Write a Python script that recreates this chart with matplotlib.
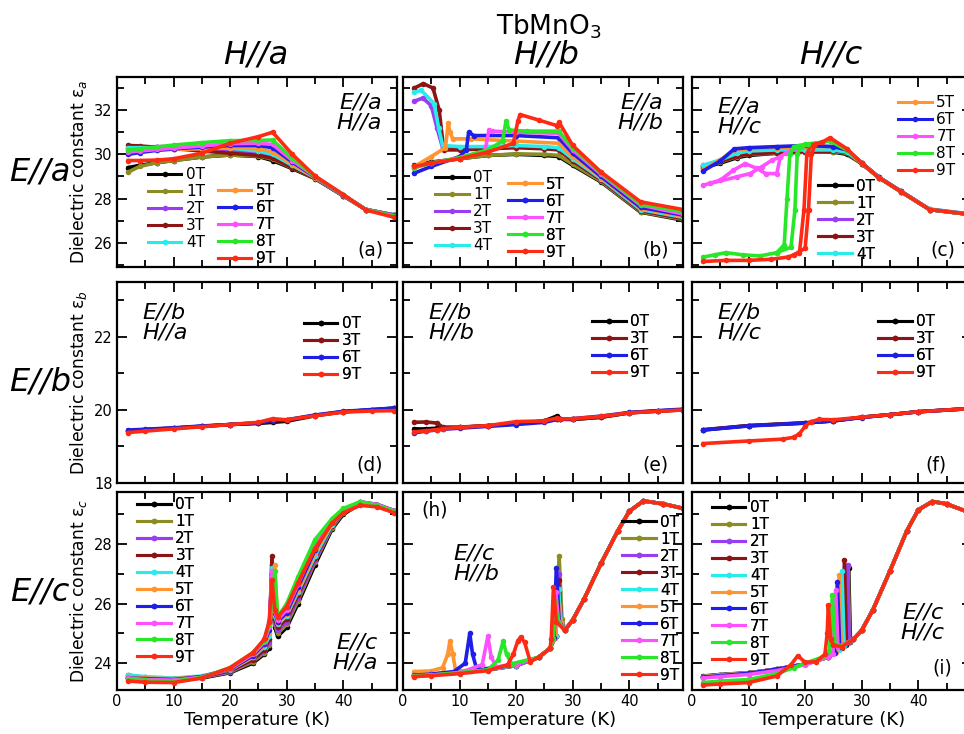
import matplotlib
matplotlib.use("Agg")
import matplotlib.pyplot as plt
from matplotlib.lines import Line2D
from matplotlib.ticker import MultipleLocator

plt.rcParams['font.family'] = ['DejaVu Sans']
plt.rcParams['mathtext.fontset'] = 'dejavusans'

FIELDS = ['0T', '1T', '2T', '3T', '4T', '5T', '6T', '7T', '8T', '9T']
COLORS = ['#000000', '#8c8c22', '#9a3cf0', '#8c1414', '#28ecec',
          '#ff9430', '#1e1ee6', '#ff50ff', '#28e628', '#ff2a14']

# ---------------- E//a, H//a ----------------
T_A = [2, 4, 7, 10, 15, 20, 25, 27.5, 31, 35, 40, 44, 49]
EPS_A = [
    [29.4, 29.5, 29.62, 29.72, 29.88, 29.97, 29.9, 29.72, 29.35, 28.9, 28.12, 27.5, 27.25],
    [29.2, 29.45, 29.62, 29.72, 29.88, 29.97, 29.92, 29.78, 29.38, 28.92, 28.12, 27.5, 27.25],
    [30.3, 30.32, 30.35, 30.35, 30.3, 30.2, 30.05, 29.9, 29.45, 28.93, 28.13, 27.5, 27.25],
    [30.4, 30.38, 30.32, 30.26, 30.15, 30.05, 29.95, 29.82, 29.4, 28.92, 28.13, 27.5, 27.25],
    [30.3, 30.3, 30.3, 30.3, 30.3, 30.28, 30.15, 30.0, 29.5, 28.95, 28.14, 27.5, 27.25],
    [30.2, 30.2, 30.2, 30.22, 30.25, 30.3, 30.25, 30.12, 29.55, 28.95, 28.15, 27.5, 27.25],
    [30.0, 30.08, 30.18, 30.25, 30.33, 30.4, 30.4, 30.3, 29.65, 28.98, 28.15, 27.5, 27.24],
    [30.1, 30.15, 30.22, 30.28, 30.38, 30.48, 30.5, 30.45, 29.72, 29.0, 28.16, 27.5, 27.22],
    [30.2, 30.25, 30.33, 30.42, 30.53, 30.62, 30.63, 30.65, 29.82, 29.0, 28.17, 27.5, 27.2],
    [29.72, 29.72, 29.74, 29.8, 30.05, 30.5, 30.8, 31.0, 30.0, 29.02, 28.18, 27.48, 27.15],
]

# ---------------- E//a, H//b ----------------
T_B = [
    [2, 5, 10, 15, 20, 25, 27.5, 30, 35, 42, 49.5],
    [2, 5, 10, 15, 20, 25, 27.5, 30, 35, 42, 49.5],
    [2, 3.5, 5, 6, 7, 10, 15, 20, 25, 27.5, 30, 35, 42, 49.5],
    [2, 3.6, 5.3, 6.4, 7.2, 10, 15, 20, 25, 27.5, 30, 35, 42, 49.5],
    [2, 3.2, 5.5, 6.3, 7, 10, 15, 20, 25, 27.5, 30, 35, 42, 49.5],
    [2, 5, 7.5, 8, 8.3, 8.8, 12, 20, 27.5, 30, 35, 42, 49.5],
    [2, 5, 10, 11.2, 11.6, 12.5, 20, 27.5, 30, 35, 42, 49.5],
    [2, 5, 10, 14.5, 15.2, 15.8, 20, 27.5, 30, 35, 42, 49.5],
    [2, 5, 10, 15, 17.6, 18.2, 18.8, 22, 27.5, 30, 35, 42, 49.5],
    [2, 5, 10, 15, 19.5, 20.3, 20.7, 24, 27.2, 27.6, 30, 35, 42, 49.5],
]
EPS_B = [
    [29.5, 29.65, 29.8, 29.95, 30.0, 29.95, 29.9, 29.5, 28.75, 27.38, 27.02],
    [29.45, 29.62, 29.8, 29.95, 30.02, 30.0, 29.95, 29.55, 28.78, 27.4, 27.05],
    [32.4, 32.55, 32.2, 31.2, 30.3, 30.25, 30.3, 30.35, 30.3, 30.25, 29.75, 28.85, 27.45, 27.1],
    [33.0, 33.2, 33.0, 32.0, 30.2, 30.2, 30.25, 30.3, 30.25, 30.2, 29.7, 28.85, 27.45, 27.1],
    [32.8, 32.9, 32.3, 31.2, 30.4, 30.35, 30.35, 30.4, 30.35, 30.3, 29.8, 28.9, 27.5, 27.15],
    [29.45, 29.9, 30.3, 31.4, 31.0, 30.7, 30.7, 30.6, 30.5, 29.9, 28.95, 27.55, 27.2],
    [29.15, 29.45, 29.9, 30.2, 31.0, 30.85, 30.85, 30.75, 30.05, 29.0, 27.6, 27.25],
    [29.4, 29.6, 29.85, 30.15, 31.1, 31.05, 31.0, 30.95, 30.2, 29.1, 27.7, 27.3],
    [29.4, 29.6, 29.85, 30.2, 30.6, 31.5, 31.1, 31.05, 31.05, 30.3, 29.15, 27.75, 27.4],
    [29.45, 29.6, 29.8, 30.1, 30.5, 31.5, 31.8, 31.55, 31.3, 31.45, 30.4, 29.2, 27.85, 27.5],
]

# ---------------- E//a, H//c ----------------
T_C_LOW = [2, 5, 8, 10, 15, 20, 25, 27.4, 30, 33, 37, 42, 48.5]
T_C_MID = [2, 5, 7.5, 10, 15, 20, 25, 27.4, 30, 33, 37, 42, 48.5]
T_C = [
    T_C_LOW, T_C_LOW, T_C_LOW, T_C_LOW, T_C_LOW, T_C_MID, T_C_MID,
    [2, 5, 7.3, 9.4, 11.5, 13, 15, 15.6, 16.6, 18.4, 21, 24.5, 27.4, 30, 33, 37, 42, 48.5],
    [2, 4, 6, 9, 12, 15, 16.3, 16.8, 17.3, 18, 20, 24.4, 27.4, 30, 33, 37, 42, 48.5],
    [2, 6, 10, 14, 17, 19, 19.8, 20.3, 21, 23, 24.4, 27.4, 30, 33, 37, 42, 48.5],
]
EPS_C = [
    [29.4, 29.6, 29.85, 29.95, 30.05, 30.1, 30.1, 30.0, 29.58, 28.95, 28.3, 27.5, 27.3],
    [29.45, 29.65, 29.9, 30.0, 30.05, 30.1, 30.12, 30.05, 29.58, 28.95, 28.3, 27.5, 27.3],
    [29.5, 29.7, 29.95, 30.05, 30.1, 30.15, 30.18, 30.12, 29.6, 28.97, 28.32, 27.52, 27.32],
    [29.45, 29.68, 29.92, 30.02, 30.08, 30.12, 30.15, 30.08, 29.58, 28.95, 28.3, 27.5, 27.3],
    [29.5, 29.75, 30.05, 30.15, 30.2, 30.2, 30.2, 30.1, 29.6, 28.97, 28.32, 27.52, 27.32],
    [29.3, 29.75, 30.2, 30.25, 30.3, 30.35, 30.35, 30.2, 29.62, 28.97, 28.32, 27.5, 27.3],
    [29.25, 29.7, 30.25, 30.3, 30.35, 30.4, 30.35, 30.2, 29.62, 28.97, 28.32, 27.5, 27.3],
    [28.6, 28.83, 29.28, 29.58, 29.36, 29.13, 29.13, 29.88, 30.06, 30.3, 30.45, 30.62, 30.2, 29.6, 28.95, 28.3, 27.5, 27.3],
    [25.35, 25.45, 25.55, 25.45, 25.4, 25.55, 25.9, 28.0, 30.0, 30.35, 30.45, 30.6, 30.2, 29.6, 28.95, 28.3, 27.5, 27.3],
    [25.15, 25.2, 25.2, 25.25, 25.35, 25.55, 27.5, 30.0, 30.4, 30.55, 30.75, 30.25, 29.6, 28.95, 28.3, 27.5, 27.3],
]
# second temperature sweeps at 7T, 8T and 9T
T_C_SWEEP = [
    [3.2, 7.9, 10.3, 12.3, 14.1, 15.6],
    [15, 17.5, 18.2, 18.6, 19.2, 20.5],
    [18, 20, 20.6, 21.1, 21.8],
]
EPS_C_SWEEP = [
    [28.68, 28.98, 29.13, 29.43, 29.73, 29.88],
    [25.55, 25.8, 27.5, 30.0, 30.35, 30.45],
    [25.45, 25.75, 27.5, 30.0, 30.45],
]
IDX_C_SWEEP = [7, 8, 9]

# ---------------- E//b panels (0T, 3T, 6T, 9T) ----------------
IDX_B = [0, 3, 6, 9]
T_D = [2, 5, 10, 15, 20, 25, 27.5, 30, 35, 40, 45, 49]
EPS_D = [
    [19.43, 19.46, 19.5, 19.55, 19.6, 19.63, 19.66, 19.69, 19.84, 19.95, 20.0, 20.05],
    [19.42, 19.46, 19.5, 19.55, 19.6, 19.64, 19.7, 19.72, 19.85, 19.95, 20.0, 20.04],
    [19.45, 19.47, 19.51, 19.56, 19.6, 19.65, 19.72, 19.73, 19.86, 19.96, 20.01, 20.05],
    [19.38, 19.42, 19.48, 19.54, 19.6, 19.66, 19.76, 19.73, 19.84, 19.94, 19.97, 19.98],
]
T_E = [2, 4, 6, 7, 10, 15, 20, 25, 27.3, 27.8, 30, 35, 40, 45, 49.5]
EPS_E = [
    [19.48, 19.48, 19.5, 19.5, 19.52, 19.57, 19.62, 19.7, 19.84, 19.75, 19.74, 19.8, 19.92, 19.97, 20.0],
    [19.66, 19.67, 19.64, 19.53, 19.53, 19.57, 19.62, 19.7, 19.76, 19.74, 19.74, 19.8, 19.92, 19.97, 20.0],
    [19.37, 19.42, 19.45, 19.47, 19.5, 19.55, 19.6, 19.66, 19.74, 19.74, 19.76, 19.83, 19.93, 19.98, 20.02],
    [19.4, 19.43, 19.46, 19.48, 19.52, 19.57, 19.68, 19.7, 19.78, 19.75, 19.76, 19.82, 19.92, 19.96, 20.0],
]
T_F_LOW = [2, 10, 20, 25, 30, 35, 40, 48.5]
T_F = [T_F_LOW, T_F_LOW, T_F_LOW,
       [2, 10, 16, 18, 19, 20, 21, 22.5, 25, 30, 35, 40, 48.5]]
EPS_F = [
    [19.45, 19.57, 19.64, 19.7, 19.8, 19.87, 19.95, 20.03],
    [19.46, 19.57, 19.65, 19.7, 19.8, 19.87, 19.95, 20.03],
    [19.45, 19.56, 19.64, 19.7, 19.79, 19.87, 19.95, 20.03],
    [19.08, 19.15, 19.2, 19.25, 19.35, 19.55, 19.68, 19.74, 19.73, 19.8, 19.87, 19.95, 20.03],
]

# ---------------- E//c, H//a ----------------
T_G = [2, 5, 10, 15, 20, 24, 26, 26.9, 27.4, 27.9, 28.4, 30, 32, 35, 38, 40, 43, 46, 49]
EPS_G = [
    [23.5, 23.48, 23.45, 23.5, 23.68, 24.0, 24.3, 24.5, 26.6, 25.2, 24.9, 25.2, 26.0, 27.3, 28.5, 29.0, 29.35, 29.3, 29.1],
    [23.55, 23.5, 23.47, 23.52, 23.7, 24.05, 24.35, 24.6, 27.2, 25.3, 25.0, 25.3, 26.1, 27.4, 28.55, 29.05, 29.38, 29.32, 29.1],
    [23.55, 23.5, 23.47, 23.53, 23.72, 24.1, 24.4, 24.7, 27.3, 25.4, 25.1, 25.4, 26.2, 27.45, 28.6, 29.08, 29.38, 29.32, 29.12],
    [23.6, 23.52, 23.48, 23.55, 23.75, 24.12, 24.45, 24.8, 27.6, 25.5, 25.2, 25.5, 26.3, 27.55, 28.62, 29.1, 29.4, 29.33, 29.12],
    [23.6, 23.55, 23.5, 23.57, 23.78, 24.2, 24.55, 24.9, 27.2, 25.6, 25.3, 25.6, 26.4, 27.6, 28.65, 29.1, 29.4, 29.33, 29.12],
    [23.55, 23.5, 23.48, 23.55, 23.8, 24.2, 24.6, 25.0, 26.0, 27.3, 25.35, 25.65, 26.45, 27.7, 28.7, 29.12, 29.4, 29.33, 29.12],
    [23.5, 23.48, 23.45, 23.55, 23.8, 24.25, 24.65, 25.1, 27.0, 25.7, 25.4, 25.7, 26.55, 27.8, 28.75, 29.15, 29.42, 29.33, 29.12],
    [23.5, 23.45, 23.43, 23.53, 23.82, 24.3, 24.7, 25.2, 27.1, 25.75, 25.45, 25.8, 26.65, 27.95, 28.8, 29.15, 29.42, 29.33, 29.12],
    [23.45, 23.42, 23.4, 23.52, 23.85, 24.35, 24.75, 25.3, 26.2, 27.1, 25.55, 26.0, 26.9, 28.15, 28.85, 29.2, 29.42, 29.3, 29.1],
    [23.4, 23.36, 23.35, 23.5, 23.85, 24.35, 24.8, 25.4, 26.8, 25.8, 25.55, 25.9, 26.7, 27.85, 28.7, 29.05, 29.3, 29.25, 29.05],
]

# ---------------- E//c, H//b ----------------
T_H_TAIL = [28.6, 30, 32, 35, 38, 40, 42.5, 46, 49.5]
EPS_H_TAIL = [25.1, 25.45, 26.15, 27.35, 28.45, 29.1, 29.45, 29.35, 29.2]
T_H = [
    [2, 5, 10, 15, 20, 24, 26, 27.0, 27.5, 28.0],
    [2, 5, 10, 15, 20, 24, 26, 27.0, 27.6, 28.1],
    [2, 5, 10, 15, 20, 24, 26, 27.0, 27.5, 28.0],
    [2, 5, 10, 15, 20, 24, 26, 27.0, 27.5, 28.0],
    [2, 5, 10, 15, 20, 24, 26, 27.0, 27.5, 28.0],
    [2, 5, 7, 7.9, 8.3, 8.8, 9.3, 12, 15, 20, 24, 26, 26.9, 27.3, 27.9],
    [2, 5, 9, 11, 11.8, 12.3, 13, 15, 20, 24, 26, 26.7, 27.1, 27.6],
    [2, 5, 10, 14, 15, 15.6, 16.5, 20, 24, 26, 26.6, 27.0, 27.5],
    [2, 5, 10, 15, 16.8, 17.7, 18.3, 19.2, 24, 26, 26.5, 26.9, 27.4],
    [2, 5, 10, 15, 18.5, 19.5, 20.3, 20.8, 21.5, 22.5, 24, 26, 26.2, 26.6, 27.1],
]
EPS_H = [
    [23.6, 23.63, 23.7, 23.78, 23.92, 24.2, 24.5, 24.9, 26.4, 25.4],
    [23.6, 23.63, 23.7, 23.78, 23.92, 24.2, 24.5, 24.9, 27.6, 25.5],
    [23.58, 23.62, 23.7, 23.78, 23.92, 24.2, 24.5, 24.9, 27.0, 25.4],
    [23.6, 23.63, 23.7, 23.78, 23.92, 24.2, 24.5, 24.9, 26.8, 25.4],
    [23.62, 23.64, 23.7, 23.78, 23.92, 24.2, 24.5, 24.9, 26.5, 25.35],
    [23.72, 23.74, 23.85, 24.3, 24.75, 24.3, 23.75, 23.75, 23.8, 23.94, 24.2, 24.5, 24.85, 26.3, 25.4],
    [23.6, 23.63, 23.72, 24.0, 25.0, 24.3, 23.82, 23.82, 23.94, 24.2, 24.5, 24.85, 27.2, 25.4],
    [23.58, 23.6, 23.68, 23.95, 24.9, 24.2, 23.88, 23.95, 24.2, 24.5, 24.8, 26.4, 25.4],
    [23.56, 23.6, 23.68, 23.78, 24.1, 24.74, 24.3, 23.98, 24.2, 24.5, 24.8, 26.05, 25.4],
    [23.55, 23.58, 23.65, 23.75, 23.95, 24.3, 24.75, 24.88, 24.7, 24.05, 24.2, 24.5, 24.8, 26.56, 25.4],
]

# ---------------- E//c, H//c ----------------
T_I_TAIL = [28.5, 30, 32, 35, 38, 40, 42.5, 45, 48.5]
EPS_I_TAIL = [24.8, 25.1, 25.8, 27.1, 28.45, 29.15, 29.43, 29.35, 29.1]
T_I = [
    [2, 5, 10, 15, 20, 24, 27.2, 27.7, 28.0],
    [2, 5, 10, 15, 20, 24, 27.1, 27.6, 27.9],
    [2, 5, 10, 15, 20, 24, 27.0, 27.5, 27.8],
    [2, 5, 10, 15, 20, 24, 26.5, 26.95, 27.3],
    [2, 5, 10, 15, 20, 24, 26.0, 26.5, 26.9],
    [2, 5, 10, 15, 20, 24, 25.5, 26.0, 26.4],
    [2, 5, 10, 15, 20, 24, 25.2, 25.7, 26.1],
    [2, 5, 10, 15, 20, 24, 24.9, 25.4, 25.8],
    [2, 5, 10, 15, 18, 20, 23, 24.3, 24.8, 25.3, 26.5],
    [2, 5, 10, 15, 17.5, 18.7, 20, 22, 23.5, 23.9, 24.1, 24.5, 25, 26.5],
]
EPS_I = [
    [23.57, 23.62, 23.68, 23.8, 23.97, 24.2, 24.62, 27.2, 24.72],
    [23.55, 23.6, 23.67, 23.8, 23.97, 24.2, 24.6, 27.25, 24.72],
    [23.55, 23.6, 23.67, 23.8, 23.97, 24.2, 24.6, 27.3, 24.7],
    [23.55, 23.6, 23.67, 23.8, 23.97, 24.2, 24.52, 27.46, 24.65],
    [23.55, 23.6, 23.67, 23.8, 23.97, 24.2, 24.45, 27.1, 24.6],
    [23.55, 23.6, 23.67, 23.8, 23.97, 24.2, 24.38, 26.95, 24.56],
    [23.53, 23.58, 23.66, 23.8, 23.97, 24.2, 24.33, 26.73, 24.55],
    [23.5, 23.55, 23.62, 23.75, 23.95, 24.2, 24.3, 26.45, 24.55],
    [23.35, 23.4, 23.45, 23.65, 23.85, 24.0, 24.2, 24.4, 26.28, 24.62, 24.58],
    [23.27, 23.3, 23.35, 23.57, 23.95, 24.25, 24.03, 24.05, 24.3, 25.0, 25.94, 24.8, 24.6, 24.55],
]

ALL10 = list(range(10))

W, H = 964, 734
fig = plt.figure(figsize=(W / 100, H / 100), dpi=100)
col_left = [117, 403, 692]
col_w = 280
row_top = [77, 282, 492]
row_bot = [267, 483, 690]
axs = [[fig.add_axes([l / W, 1 - b / H, col_w / W, (b - t) / H])
        for l in col_left] for t, b in zip(row_top, row_bot)]

ylims = [(24.9, 33.5), (18, 23.5), (23.1, 29.75)]
for r in range(3):
    for c in range(3):
        ax = axs[r][c]
        ax.set_xlim(0, 49.5)
        ax.set_ylim(*ylims[r])
        ax.xaxis.set_major_locator(MultipleLocator(10))
        ax.xaxis.set_minor_locator(MultipleLocator(5))
        ax.yaxis.set_major_locator(MultipleLocator(2))
        ax.yaxis.set_minor_locator(MultipleLocator(1))
        ax.tick_params(which='both', direction='in', top=True, right=True,
                       width=1.3, labelsize=10.5, pad=3)
        ax.tick_params(which='major', length=7)
        ax.tick_params(which='minor', length=5)
        for s in ax.spines.values():
            s.set_linewidth(1.6)
        if c > 0:
            ax.tick_params(labelleft=False)
        if r < 2:
            ax.tick_params(labelbottom=False)
        else:
            ax.set_xlabel('Temperature (K)', fontsize=13, labelpad=1)


def draw(ax, t_lists, e_lists, idx):
    for t, e, k in zip(t_lists, e_lists, idx):
        ax.plot(t, e, color=COLORS[k], lw=2.6, marker='o', ms=4, mew=0,
                solid_joinstyle='round')


def legend(ax, idx, x, y):
    handles = [Line2D([], [], color=COLORS[k], lw=2.2, marker='o', ms=4, mew=0)
               for k in idx]
    leg = ax.legend(handles, [FIELDS[k] for k in idx], loc='upper left',
                    bbox_to_anchor=(x, y), bbox_transform=ax.transAxes,
                    frameon=False, fontsize=11, handlelength=2.2,
                    handletextpad=0.3, labelspacing=0.13, borderpad=0,
                    borderaxespad=0, numpoints=1)
    ax.add_artist(leg)


def tag(ax, text, x, y, ha='left', va='top'):
    ax.text(x, y, text, transform=ax.transAxes, ha=ha, va=va, fontsize=16,
            style='italic', linespacing=1.0)


def label(ax, text, x, y, ha='right'):
    ax.text(x, y, text, transform=ax.transAxes, ha=ha, va='bottom', fontsize=13.5)


# row 1: E//a
ax = axs[0][0]
draw(ax, [T_A] * 10, EPS_A, ALL10)
legend(ax, [0, 1, 2, 3, 4], 0.11, 0.525)
legend(ax, [5, 6, 7, 8, 9], 0.36, 0.44)
tag(ax, 'E//a\nH//a', 0.945, 0.92, ha='right')
label(ax, '(a)', 0.95, 0.04)

ax = axs[0][1]
draw(ax, T_B, EPS_B, ALL10)
legend(ax, [0, 1, 2, 3, 4], 0.114, 0.51)
legend(ax, [5, 6, 7, 8, 9], 0.375, 0.475)
tag(ax, 'E//a\nH//b', 0.93, 0.92, ha='right')
label(ax, '(b)', 0.95, 0.04)

ax = axs[0][2]
draw(ax, T_C, EPS_C, ALL10)
draw(ax, T_C_SWEEP, EPS_C_SWEEP, IDX_C_SWEEP)
legend(ax, [5, 6, 7, 8, 9], 0.736, 0.905)
legend(ax, [0, 1, 2, 3, 4], 0.45, 0.465)
tag(ax, 'E//a\nH//c', 0.09, 0.9)
label(ax, '(c)', 0.94, 0.04)

# row 2: E//b
ax = axs[1][0]
draw(ax, [T_D] * 4, EPS_D, IDX_B)
legend(ax, IDX_B, 0.667, 0.83)
tag(ax, 'E//b\nH//a', 0.09, 0.9)
label(ax, '(d)', 0.95, 0.04)

ax = axs[1][1]
draw(ax, [T_E] * 4, EPS_E, IDX_B)
legend(ax, IDX_B, 0.675, 0.84)
tag(ax, 'E//b\nH//b', 0.09, 0.9)
label(ax, '(e)', 0.95, 0.04)

ax = axs[1][2]
draw(ax, T_F, EPS_F, IDX_B)
legend(ax, IDX_B, 0.664, 0.84)
tag(ax, 'E//b\nH//c', 0.09, 0.9)
label(ax, '(f)', 0.91, 0.04)

# row 3: E//c
ax = axs[2][0]
draw(ax, [T_G] * 10, EPS_G, ALL10)
legend(ax, ALL10, 0.072, 0.975)
tag(ax, 'E//c\nH//a', 0.93, 0.09, ha='right', va='bottom')

ax = axs[2][1]
draw(ax, [t + T_H_TAIL for t in T_H], [e + EPS_H_TAIL for e in EPS_H], ALL10)
legend(ax, ALL10, 0.782, 0.885)
tag(ax, 'E//c\nH//b', 0.18, 0.74)
ax.text(0.065, 0.955, '(h)', transform=ax.transAxes, ha='left', va='top', fontsize=13.5)

ax = axs[2][2]
draw(ax, [t + T_I_TAIL for t in T_I], [e + EPS_I_TAIL for e in EPS_I], ALL10)
legend(ax, ALL10, 0.071, 0.96)
tag(ax, 'E//c\nH//c', 0.9, 0.44, ha='right')
label(ax, '(i)', 0.93, 0.065)

# axis titles
for r, sub in enumerate(['a', 'b', 'c']):
    axs[r][0].set_ylabel('Dielectric constant ε$_{%s}$' % sub, fontsize=12.3, labelpad=4)

fig.text(549 / W, 1 - 27 / H, 'TbMnO$_3$', ha='center', va='center', fontsize=19)
for x, s in zip([256, 546, 831], ['a', 'b', 'c']):
    fig.text(x / W, 1 - 55 / H, 'H//' + s, ha='center', va='center',
             fontsize=23, style='italic')
for y, s in zip([172, 382, 592], ['a', 'b', 'c']):
    fig.text(40 / W, 1 - y / H, 'E//' + s, ha='center', va='center',
             fontsize=23, style='italic')

fig.savefig('out.png', dpi=100, facecolor='white')
